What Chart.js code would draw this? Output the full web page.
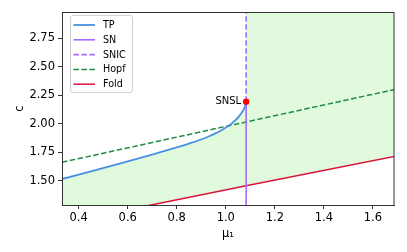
<!DOCTYPE html>
<html>
<head>
<meta charset="utf-8">
<script src="https://cdn.jsdelivr.net/npm/chart.js@4/dist/chart.umd.min.js"></script>
<style>
html,body{margin:0;padding:0;background:#fff;}
#wrap{width:407px;height:252px;position:relative;}
</style>
</head>
<body>
<div id="wrap"><canvas id="c" width="407" height="252"></canvas></div>
<script>
// ---- data ----
const tpMu = [0.30, 0.332, 0.458, 0.578, 0.714, 0.85, 0.918, 0.986, 1.027, 1.054, 1.070, 1.078, 1.083];
const tpC  = [1.500, 1.517, 1.588, 1.658, 1.740, 1.827, 1.878, 1.948, 2.008, 2.065, 2.115, 2.150, 2.194];
const snMu = 1.083;
const snslC = 2.194;
const snBottom = 1.0;
const snicTop = 3.5;
const hopfMu = [0.30, 1.72];
const hopfC  = [1.649, 2.315];
const foldMu = [0.30, 0.70, 1.083, 1.72];
const foldC  = [1.122, 1.292, 1.459, 1.729];
const xTicks = [0.4, 0.6, 0.8, 1.0, 1.2, 1.4, 1.6];
const yTicks = [1.50, 1.75, 2.00, 2.25, 2.50, 2.75];
const xRange = [0.332, 1.686];
const yRange = [1.29, 2.978];
const pointLabel = 'SNSL';
const xTitle = 'μ₁';
const yTitle = 'c';

const pts = (xs, ys) => xs.map((x, i) => ({x, y: ys[i]}));

// stable region polygon: below TP (left of SN) / whole height (right of SN), above Fold
const region = pts(tpMu, tpC)
  .concat([{x: snMu, y: snicTop}, {x: foldMu[foldMu.length - 1], y: snicTop}])
  .concat(pts(foldMu, foldC).reverse());

const FONT = "'DejaVu Sans', sans-serif";

const boxPlugin = {
  id: 'box',
  afterDatasetsDraw(chart) {
    const {ctx, chartArea: a} = chart;
    ctx.save();
    ctx.strokeStyle = '#333';
    ctx.lineWidth = 1;
    ctx.strokeRect(Math.round(a.left) + 0.5, Math.round(a.top) + 0.5,
      Math.round(a.right - a.left) - 1 + 0.5, Math.round(a.bottom - a.top));
    // SNSL label
    const meta = chart.getDatasetMeta(chart.data.datasets.findIndex(d => d.isPoint));
    const p = meta.data[0];
    ctx.font = '10px ' + FONT;
    ctx.fillStyle = '#000';
    ctx.textAlign = 'right';
    ctx.textBaseline = 'middle';
    ctx.fillText(pointLabel, p.x - 5, p.y);
    // legend
    const items = chart.data.datasets.filter(d => d.inLegend);
    const bx = 70, by = 15, bw = 62, bh = 77;
    ctx.fillStyle = 'rgba(255,255,255,0.85)';
    ctx.strokeStyle = '#d0d0d0';
    ctx.lineWidth = 1;
    ctx.beginPath();
    if (ctx.roundRect) ctx.roundRect(bx + 0.5, by + 0.5, bw, bh, 2.5); else ctx.rect(bx + 0.5, by + 0.5, bw, bh);
    ctx.fill();
    ctx.stroke();
    ctx.font = '9.6px ' + FONT;
    ctx.textAlign = 'left';
    ctx.textBaseline = 'middle';
    items.forEach((d, i) => {
      const y = 25 + i * 14.8;
      ctx.strokeStyle = d.borderColor;
      ctx.lineWidth = d.borderWidth;
      ctx.setLineDash(d.borderDash || []);
      ctx.beginPath();
      ctx.moveTo(73.5, y);
      ctx.lineTo(95, y);
      ctx.stroke();
      ctx.setLineDash([]);
      ctx.fillStyle = '#000';
      ctx.fillText(d.label, 103, y + 0.5);
    });
    ctx.restore();
  }
};

new Chart(document.getElementById('c'), {
  type: 'line',
  data: {
    datasets: [
      {label: 'SNSL', isPoint: true, data: [{x: snMu, y: snslC}], showLine: false,
       pointRadius: 3.2, pointBackgroundColor: '#ff0000', pointBorderWidth: 0, order: 0},
      {label: 'TP', inLegend: true, data: pts(tpMu, tpC), borderColor: '#4a90e2', borderWidth: 1.8, pointRadius: 0,
       cubicInterpolationMode: 'monotone', order: 1},
      {label: 'SN', inLegend: true, data: [{x: snMu, y: snBottom}, {x: snMu, y: snslC}], borderColor: '#a66cff', borderWidth: 1.6, pointRadius: 0, order: 2},
      {label: 'SNIC', inLegend: true, data: [{x: snMu, y: snslC}, {x: snMu, y: snicTop}], borderColor: '#a66cff', borderWidth: 1.6, borderDash: [5.5, 2.5], pointRadius: 0, order: 3},
      {label: 'Hopf', inLegend: true, data: pts(hopfMu, hopfC), borderColor: '#238b45', borderWidth: 1.5, borderDash: [5.5, 2.5], pointRadius: 0, order: 4},
      {label: 'Fold', inLegend: true, data: pts(foldMu, foldC), borderColor: '#dc143c', borderWidth: 1.5, pointRadius: 0, order: 5},
      {label: 'region', data: region, borderWidth: 0, borderColor: 'rgba(0,0,0,0)', backgroundColor: 'rgb(225,250,222)',
       fill: 'shape', pointRadius: 0, order: 10}
    ]
  },
  options: {
    animation: false,
    responsive: false,
    events: [],
    layout: {padding: {top: 12, right: 13, bottom: 0, left: 0}},
    plugins: {legend: {display: false}, tooltip: {enabled: false}, filler: {propagate: false}},
    scales: {
      x: {
        type: 'linear', min: xRange[0], max: xRange[1],
        afterFit(s) { s.height = 47; },
        afterBuildTicks(s) { s.ticks = xTicks.map(v => ({value: v})); },
        grid: {display: true, drawOnChartArea: false, drawTicks: true, tickLength: 4, color: '#333'},
        border: {display: true, color: '#333'},
        ticks: {color: '#000', padding: 2, font: {family: FONT, size: 11.5}, callback: v => v.toFixed(1), maxRotation: 0},
        title: {display: true, text: xTitle, color: '#000', font: {family: FONT, size: 11.5}, padding: {top: 0, bottom: 11.5}}
      },
      y: {
        type: 'linear', min: yRange[0], max: yRange[1],
        afterFit(s) { s.width = 62; },
        afterBuildTicks(s) { s.ticks = yTicks.map(v => ({value: v})); },
        grid: {display: true, drawOnChartArea: false, drawTicks: true, tickLength: 4, color: '#333'},
        border: {display: true, color: '#333'},
        ticks: {color: '#000', padding: 3, font: {family: FONT, size: 11.5}, callback: v => v.toFixed(2)},
        title: {display: true, text: yTitle, color: '#000', font: {family: FONT, size: 11.5}, padding: {top: 13, bottom: 0}}
      }
    }
  },
  plugins: [boxPlugin]
});
</script>
</body>
</html>
